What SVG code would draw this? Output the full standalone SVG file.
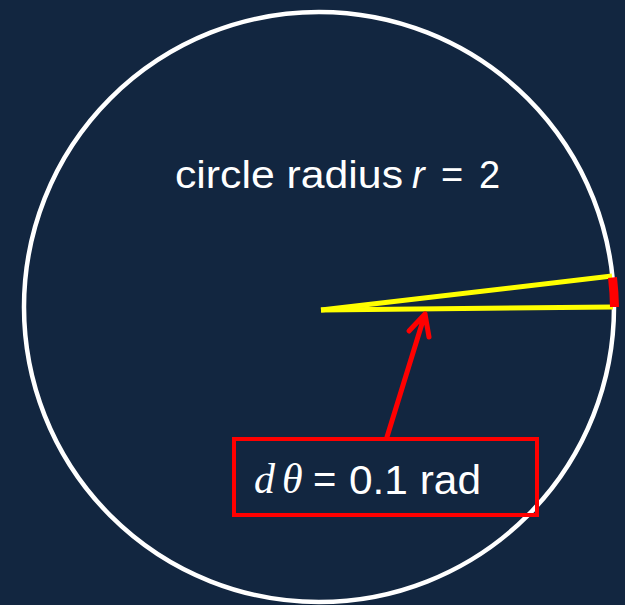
<svg xmlns="http://www.w3.org/2000/svg" width="625" height="605" viewBox="0 0 625 605">
<style>
.t{font-family:"Liberation Sans","Open Sans",Arial,sans-serif;fill:#ffffff}
.i{font-style:italic}
.m{font-family:"Liberation Serif","DejaVu Serif",serif;font-style:italic;fill:#ffffff}
.y{stroke:#ffff00;stroke-width:5;fill:none;stroke-linecap:butt}
.r{stroke:#ff0000;fill:none}
</style>
<rect width="625" height="605" fill="#122640"/>
<g id="circle">
<circle cx="319" cy="307" r="295" fill="none" stroke="#ffffff" stroke-width="4.5"/>
</g>
<g id="title">
<text class="t" x="175" y="188" font-size="38" textLength="228" lengthAdjust="spacingAndGlyphs">circle radius</text>
<text class="t i" x="412" y="188" font-size="38">r</text>
<text class="t" x="441" y="188" font-size="38">=</text>
<text class="t" x="479" y="188" font-size="38">2</text>
</g>
<g id="angle">
<line class="y" x1="321" y1="310" x2="613" y2="307"/>
<line class="y" x1="321" y1="310" x2="612" y2="276"/>
<path class="r" stroke-width="9" d="M614.5 307 A295 295 0 0 0 612.5 277.5"/>
</g>
<g id="label">
<rect class="r" x="234" y="439" width="303" height="76" stroke-width="4"/>
<text class="m" x="254" y="493" font-size="42">d</text>
<text class="m" x="282" y="493" font-size="42">θ</text>
<text class="t" x="313" y="493" font-size="40">=</text>
<text class="t" x="349" y="494" font-size="41" textLength="132" lengthAdjust="spacingAndGlyphs">0.1 rad</text>
</g>
<g id="connectors">
<path class="r" stroke-width="5" stroke-linecap="round" stroke-linejoin="round" d="M387 437 L425 314 M409 331 L425 314 L429 337"/>
</g>
</svg>
